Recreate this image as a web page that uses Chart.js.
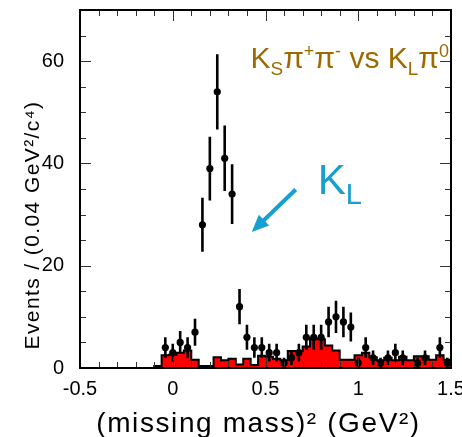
<!DOCTYPE html>
<html><head><meta charset="utf-8">
<script src="https://cdn.jsdelivr.net/npm/chart.js@4"></script>
<style>html,body{margin:0;padding:0;background:#fff}#wrap{width:462px;height:437px}</style>
</head><body><div id="wrap"><canvas id="c" width="462" height="437"></canvas></div>
<script>
// ---- data ----
const xTickLabels = [-0.5, 0, 0.5, 1, 1.5];
const yTickLabels = [0, 20, 40, 60];
const binLow = -0.5, binWidth = 0.04;
// background (red histogram), one value per 0.04 bin from -0.5 to 1.5
const bgCounts = [
  0, 0, 0, 0, 0, 0, 0, 0, 0, 0,
  0.4, 2.5, 2.6, 3.0, 3.4, 1.6, 0.4, 0.4, 2.1, 1.5,
  1.8, 0.7, 1.8, 0.6, 2.4, 2.2, 1.8, 1.5, 3.3, 3.3,
  4.2, 5.7, 5.6, 4.4, 3.4, 1.6, 1.6, 2.5, 3.0, 2.1,
  1.5, 2.0, 1.5, 2.2, 1.5, 2.3, 2.3, 1.6, 2.5, 1.6
];
// data points (bin centres, events, errors)
const pointX = [-0.04, 0, 0.04, 0.08, 0.12, 0.16, 0.20, 0.24, 0.28, 0.32, 0.36, 0.40, 0.44, 0.48, 0.52, 0.56, 0.60, 0.64, 0.68, 0.72, 0.76, 0.80, 0.84, 0.88, 0.92, 0.96, 1.00, 1.04, 1.08, 1.12, 1.16, 1.20, 1.24, 1.32, 1.36, 1.44, 1.48];
const pointN = [4, 3, 5, 4, 7, 28, 39, 54, 41, 34, 12, 6, 4, 4, 3, 3, 1, 2, 3, 6, 6, 6, 9, 10, 9, 8, 1, 4, 2, 1, 2, 3, 2, 1, 2, 4, 1];
const pointErr = [2, 1.73, 2.24, 2, 2.65, 5.29, 6.24, 7.35, 6.4, 5.83, 3.46, 2.45, 2, 2, 1.73, 1.73, 1, 1.41, 1.73, 2.45, 2.45, 2.45, 3, 3.16, 3, 2.83, 1, 2, 1.41, 1, 1.41, 1.73, 1.41, 1, 1.41, 2, 1];
const xTitle = '(missing mass)\u00B2 (GeV\u00B2)';
const yTitle = 'Events / (0.04 GeV\u00B2/c\u2074)';

const FONT = "'Liberation Sans', Arial, Helvetica, sans-serif";
const GOLD = '#9c6a00';
const BLUE = '#169fd0';

const histData = bgCounts.map((v, i) => ({x: binLow + i * binWidth, y: v}));
histData.push({x: binLow + bgCounts.length * binWidth, y: bgCounts[bgCounts.length - 1]});

function drawRich(ctx, x, y, segs, color) {
  ctx.fillStyle = color; ctx.textAlign = 'left'; ctx.textBaseline = 'alphabetic';
  for (const s of segs) {
    ctx.font = s.size + 'px ' + FONT;
    ctx.fillText(s.t, x, y + (s.dy || 0));
    x += ctx.measureText(s.t).width;
  }
}

const errorBars = {
  id: 'errorBars',
  beforeDatasetDraw(chart, args) {
    if (args.index !== 0) return;
    const {ctx, scales: {x, y}} = chart;
    ctx.save(); ctx.strokeStyle = '#000'; ctx.lineWidth = 2.6; ctx.lineCap = 'butt';
    ctx.beginPath();
    pointX.forEach((v, i) => {
      const px = x.getPixelForValue(v);
      ctx.moveTo(px, y.getPixelForValue(Math.max(0, pointN[i] - pointErr[i])));
      ctx.lineTo(px, y.getPixelForValue(pointN[i] + pointErr[i]));
    });
    ctx.stroke(); ctx.restore();
  }
};

const frameTicks = {
  id: 'frameTicks',
  afterDatasetsDraw(chart) {
    const {ctx, chartArea: a, scales: {x, y}} = chart;
    ctx.save();
    ctx.strokeStyle = '#333'; ctx.lineWidth = 1;
    ctx.beginPath();
    for (let k = 0; k <= 20; k++) {
      const v = -0.5 + k * 0.1;
      const px = Math.round(x.getPixelForValue(v)) + 0.5;
      const len = (k % 5 === 0) ? 11 : 6;
      ctx.moveTo(px, a.bottom); ctx.lineTo(px, a.bottom - len);
      ctx.moveTo(px, a.top); ctx.lineTo(px, a.top + len);
    }
    for (let k = 0; k <= 14; k++) {
      const v = k * 5;
      const py = Math.round(y.getPixelForValue(v)) + 0.5;
      const len = (k % 4 === 0) ? 11 : 6;
      ctx.moveTo(a.left, py); ctx.lineTo(a.left + len, py);
      ctx.moveTo(a.right, py); ctx.lineTo(a.right - len, py);
    }
    ctx.stroke();
    ctx.strokeStyle = '#000'; ctx.lineWidth = 2;
    ctx.strokeRect(a.left, a.top, a.right - a.left, a.bottom - a.top);
    ctx.restore();
  },
  afterDraw(chart) {
    const {ctx, chartArea: a, scales: {x, y}} = chart;
    ctx.save();
    // axis titles
    ctx.fillStyle = '#000';
    ctx.font = '28px ' + FONT;
    if ('letterSpacing' in ctx) ctx.letterSpacing = '1.6px';
    ctx.textAlign = 'center'; ctx.textBaseline = 'alphabetic';
    ctx.fillText(xTitle, (a.left + a.right) / 2 - 7, 432);
    ctx.save();
    ctx.translate(33, 225); ctx.rotate(-Math.PI / 2);
    ctx.font = '21px ' + FONT;
    if ('letterSpacing' in ctx) ctx.letterSpacing = '1.4px';
    ctx.textBaseline = 'middle';
    ctx.fillText(yTitle, 0, 0);
    ctx.restore();
    if ('letterSpacing' in ctx) ctx.letterSpacing = '0px';
    // top-right label
    drawRich(ctx, x.getPixelForValue(0.419), y.getPixelForValue(58.7), [
      {t: 'K', size: 30}, {t: 'S', size: 19, dy: 7}, {t: '\u03C0', size: 30},
      {t: '+', size: 18, dy: -11}, {t: '\u03C0', size: 30}, {t: '-', size: 18, dy: -11},
      {t: ' vs ', size: 30}, {t: 'K', size: 30}, {t: 'L', size: 19, dy: 7},
      {t: '\u03C0', size: 30}, {t: '0', size: 18, dy: -11}
    ], GOLD);
    // K_L label
    drawRich(ctx, x.getPixelForValue(0.782), y.getPixelForValue(34.1), [
      {t: 'K', size: 42}, {t: 'L', size: 29, dy: 10}
    ], BLUE);
    // arrow
    const x0 = x.getPixelForValue(0.663), y0 = y.getPixelForValue(34.9);
    const x1 = x.getPixelForValue(0.426), y1 = y.getPixelForValue(26.6);
    const ang = Math.atan2(y1 - y0, x1 - x0);
    const hl = 17, hw = 7.5;
    const bx = x1 - hl * Math.cos(ang), by = y1 - hl * Math.sin(ang);
    ctx.strokeStyle = BLUE; ctx.fillStyle = BLUE; ctx.lineWidth = 4; ctx.lineCap = 'butt';
    ctx.beginPath(); ctx.moveTo(x0, y0); ctx.lineTo(bx + 2 * Math.cos(ang), by + 2 * Math.sin(ang)); ctx.stroke();
    ctx.beginPath();
    ctx.moveTo(x1, y1);
    ctx.lineTo(bx + hw * Math.sin(ang), by - hw * Math.cos(ang));
    ctx.lineTo(bx - hw * Math.sin(ang), by + hw * Math.cos(ang));
    ctx.closePath(); ctx.fill();
    ctx.restore();
  }
};

Chart.defaults.font.family = FONT;
Chart.defaults.color = '#000';

new Chart(document.getElementById('c'), {
  type: 'scatter',
  data: {
    datasets: [
      {
        label: 'data', data: pointX.map((v, i) => ({x: v, y: pointN[i]})),
        pointRadius: 3.6, pointBackgroundColor: '#000', pointBorderWidth: 0, showLine: false, order: 0
      },
      {
        label: 'background', type: 'line', data: histData, stepped: true, fill: 'origin',
        backgroundColor: '#ff0000', borderColor: '#000', borderWidth: 2, pointRadius: 0, order: 1
      }
    ]
  },
  options: {
    responsive: false, animation: false, devicePixelRatio: 1,
    layout: {padding: {top: 10, right: 11, left: 0, bottom: 0}},
    plugins: {legend: {display: false}, tooltip: {enabled: false}},
    scales: {
      x: {
        type: 'linear', min: -0.5, max: 1.5,
        afterBuildTicks: s => { s.ticks = xTickLabels.map(v => ({value: v})); },
        afterFit: s => { s.height = 69; s.paddingLeft = 0; s.paddingRight = 0; },
        grid: {display: false}, border: {display: false},
        ticks: {font: {size: 20}, color: '#000', padding: 1, maxRotation: 0, autoSkip: false,
          callback: v => String(v)}
      },
      y: {
        type: 'linear', min: 0, max: 70,
        afterBuildTicks: s => { s.ticks = yTickLabels.map(v => ({value: v})); },
        afterFit: s => { s.width = 80; s.paddingTop = 0; s.paddingBottom = 0; },
        grid: {display: false}, border: {display: false},
        ticks: {font: {size: 20}, color: '#000', padding: 8, autoSkip: false, callback: v => String(v)}
      }
    }
  },
  plugins: [errorBars, frameTicks]
});
</script>
</body></html>
